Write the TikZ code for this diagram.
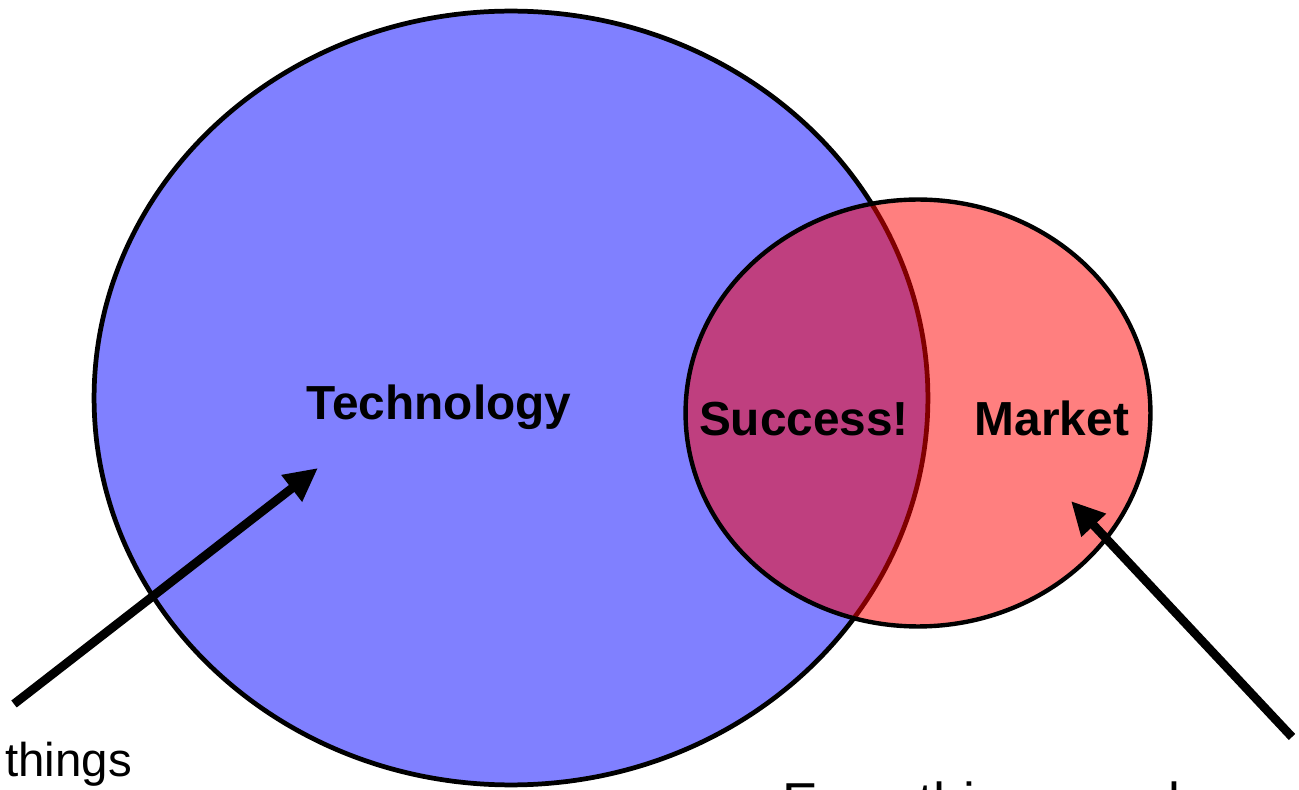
\documentclass[tikz,border=0pt]{standalone}
\usepackage{fontspec}
\setmainfont{Liberation Sans}
\usetikzlibrary{arrows.meta}

\begin{document}
\begin{tikzpicture}[x = 0.02cm, y = -0.02cm]

\tikzstyle{set_T}=[draw = black, fill = blue!50, line width = 2.7pt]
\tikzstyle{set_M}=[draw = black, fill = red, fill opacity = 0.5, line width = 2.5pt]
\tikzstyle{label_set}=[font = \fontsize{27.2}{32}\selectfont\bfseries, anchor = base, inner sep = 0]
\tikzstyle{label_note}=[anchor = base west, inner sep = 0]
\tikzstyle{pointer}=[-{Triangle[length = 19pt, width = 18pt]}, line width = 5pt, color = black]

\useasboundingbox (0, 0) rectangle (1299, 790);
\clip (0, 0) rectangle (1299, 790);

\coordinate (T) at (511, 398);
\coordinate (M) at (918, 413);
\coordinate (p1) at (14, 704);
\coordinate (p1t) at (318, 468);
\coordinate (p2) at (1292, 737);
\coordinate (p2t) at (1071, 501);

% the two sets
\draw[set_T] (T) ellipse [x radius = 8.34cm, y radius = 7.74cm];
\draw[set_M] (M) ellipse [x radius = 4.65cm, y radius = 4.27cm];

\path
(439, 420) node[label_set](tech) {Technology}
(804, 436) node[label_set](succ) {Success!}
(1052, 436) node[label_set](mkt) {Market}
(5, 776) node[label_note, font = \fontsize{27}{32}\selectfont](n1) {things}
(782, 820) node[label_note, font = \fontsize{30.4}{36}\selectfont](n2) {Everything people};

%arrows
\draw[pointer] (p1) to (p1t);
\draw[pointer] (p2) to (p2t);

\end{tikzpicture}
\end{document}
